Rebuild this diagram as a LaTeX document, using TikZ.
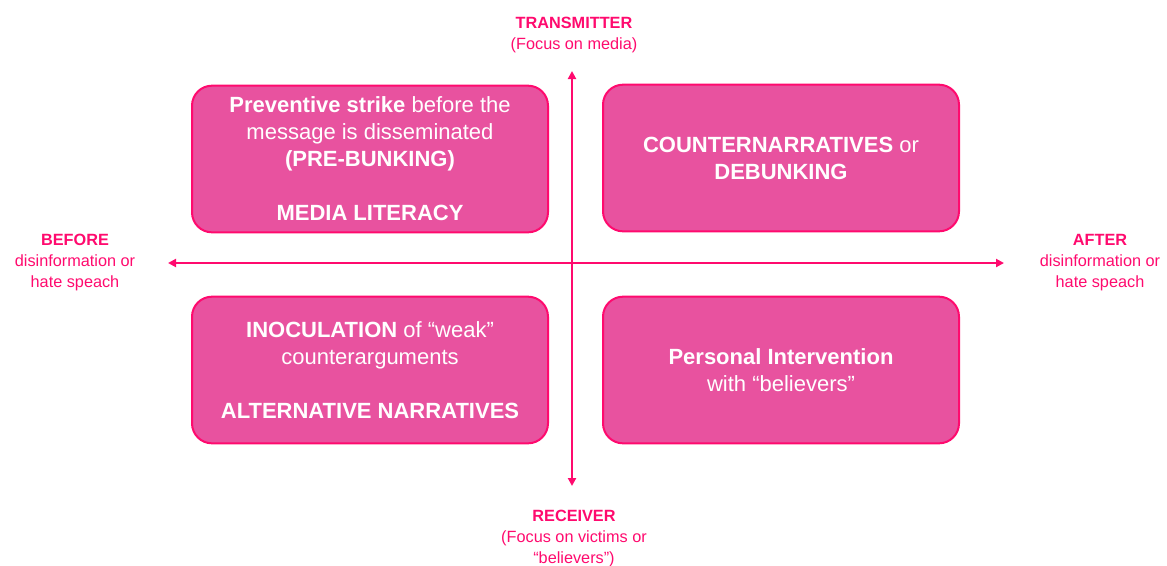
\documentclass[tikz,border=0pt]{standalone}
\usepackage{fontspec}
\setmainfont{Liberation Sans}
\usetikzlibrary{arrows.meta}
\definecolor{hotpink}{HTML}{FF0A6E}
\definecolor{boxpink}{HTML}{E8529F}
\tikzset{
  quad/.style={draw=hotpink, line width=1.5pt, fill=boxpink, rounded corners=15pt,
    minimum width=267pt, minimum height=110pt, text=white, align=center,
    font=\fontsize{16.5}{20.25}\selectfont},
  axislabel/.style={text=hotpink, align=center, font=\fontsize{12.2}{15.75}\selectfont},
  axis/.style={hotpink, line width=1.6pt, {Triangle[length=6pt,width=6pt]}-{Triangle[length=6pt,width=6pt]}},
}

\begin{document}
\begin{tikzpicture}[x=0.75pt, y=-0.75pt]

\useasboundingbox (0,0) rectangle (1167,565);

% the four boxes
\node[quad] (pre) at (370,159) {\textbf{Preventive strike} before the\\ message is disseminated\\ \textbf{(PRE-BUNKING)}\\[20.25pt] \textbf{MEDIA LITERACY}};
\node[quad] (deb) at (781,158) {\textbf{COUNTERNARRATIVES} or\\ \textbf{DEBUNKING}};
\node[quad] (ino) at (370,370) {\textbf{INOCULATION} of “weak”\\ counterarguments\\[20.25pt] \textbf{ALTERNATIVE NARRATIVES}};
\node[quad] (per) at (781,370) {\textbf{Personal Intervention}\\ with “believers”};

% axes
\coordinate (top) at (572,71);
\coordinate (bot) at (572,486);
\coordinate (lft) at (168,263);
\coordinate (rgt) at (1004,263);
\draw[axis] (bot) -- (top);
\draw[axis] (lft) -- (rgt);

% axis labels
\node[axislabel] (trans) at (574,35) {\textbf{TRANSMITTER}\\ (Focus on media)};
\node[axislabel] (recv) at (574,538) {\textbf{RECEIVER}\\ (Focus on victims or\\ “believers”)};
\node[axislabel] (before) at (75,263) {\textbf{BEFORE}\\ disinformation or\\ hate speach};
\node[axislabel] (after) at (1100,263) {\textbf{AFTER}\\ disinformation or\\ hate speach};

\end{tikzpicture}
\end{document}
